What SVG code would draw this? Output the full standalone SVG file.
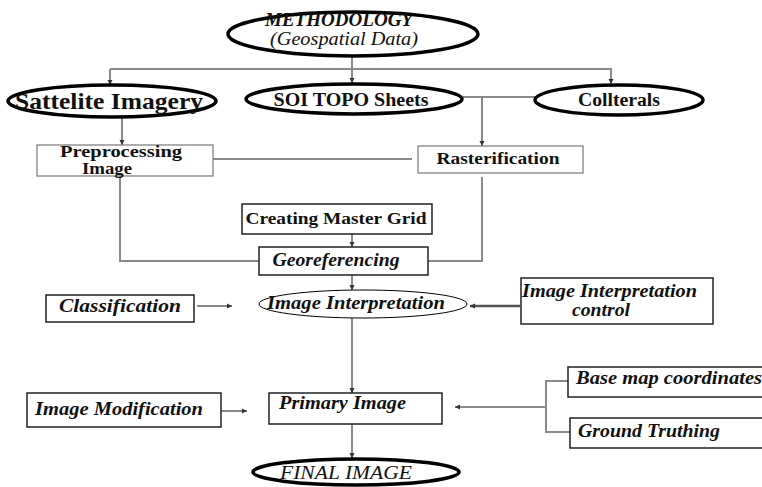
<svg xmlns="http://www.w3.org/2000/svg" width="762" height="487" viewBox="0 0 762 487" font-family="Liberation Serif, Times New Roman, serif">
<defs>
<marker id="ah" markerWidth="6" markerHeight="6" refX="5" refY="3" orient="auto" markerUnits="userSpaceOnUse">
<path d="M0,0.5 L5,3 L0,5.5 Z" fill="#333"/>
</marker>
</defs>
<style>
.bg{fill:#fff}
.conn{fill:none;stroke:#8a8a8a;stroke-width:2}
.dark{stroke:#555;stroke-width:2.5}
.thick{fill:#fff;stroke:#000;stroke-width:3.5}
.thin{fill:#fff;stroke:#000;stroke-width:1}
.box{fill:#fff;stroke:#222;stroke-width:1.5}
.gbox{fill:#fff;stroke:#777;stroke-width:1.2}
text{fill:#111}
.b{font-weight:bold}
.bi{font-weight:bold;font-style:italic}
.i{font-style:italic}
</style>
<rect class="bg" x="0" y="0" width="762" height="487"/>

<g id="connectors">
<line class="conn" x1="352" y1="56" x2="352" y2="83" marker-end="url(#ah)"/>
<polyline class="conn" points="110,69 611,69 611,84" marker-end="url(#ah)"/>
<line class="conn" x1="110" y1="69" x2="110" y2="85" marker-end="url(#ah)"/>
<line class="conn" x1="122" y1="117" x2="122" y2="145" marker-end="url(#ah)"/>
<line class="conn" x1="462" y1="97" x2="536" y2="97"/>
<line class="conn" x1="482" y1="97" x2="482" y2="146" marker-end="url(#ah)"/>
<line class="conn" x1="213" y1="159" x2="412" y2="159"/>
<polyline class="conn" points="120,176 120,261 259,261"/>
<polyline class="conn" points="482,177 482,261 428,261"/>
<line class="conn" x1="352" y1="234" x2="352" y2="247" marker-end="url(#ah)"/>
<line class="conn" x1="352" y1="275" x2="352" y2="290" marker-end="url(#ah)"/>
<line class="conn" x1="197" y1="306" x2="232" y2="306" marker-end="url(#ah)"/>
<line class="conn dark" x1="520" y1="306" x2="470" y2="306" marker-end="url(#ah)"/>
<line class="conn" x1="352" y1="318" x2="352" y2="393" marker-end="url(#ah)"/>
<line class="conn" x1="221" y1="411" x2="247" y2="411" marker-end="url(#ah)"/>
<polyline class="conn" points="568,381 546,381 546,432 570,432"/>
<line class="conn" x1="546" y1="407" x2="455" y2="407" marker-end="url(#ah)"/>
<line class="conn" x1="352" y1="424" x2="352" y2="458" marker-end="url(#ah)"/>
</g>

<g id="methodology">
<ellipse class="thick" cx="353" cy="34" rx="125" ry="22"/>
<text class="bi" x="339" y="26" text-anchor="middle" font-size="18" textLength="148" lengthAdjust="spacingAndGlyphs">METHODOLOGY</text>
<text class="i" x="344" y="45" text-anchor="middle" font-size="18" textLength="148" lengthAdjust="spacingAndGlyphs">(Geospatial Data)</text>
</g>

<g id="satellite">
<ellipse class="thick" cx="112" cy="101" rx="104" ry="16"/>
<text class="b" x="109" y="109" text-anchor="middle" font-size="23" textLength="188" lengthAdjust="spacingAndGlyphs">Sattelite Imagery</text>
</g>

<g id="soi">
<ellipse class="thick" cx="354" cy="99" rx="108" ry="15"/>
<text class="b" x="351" y="106" text-anchor="middle" font-size="18" textLength="155" lengthAdjust="spacingAndGlyphs">SOI TOPO Sheets</text>
</g>

<g id="collterals">
<ellipse class="thick" cx="619" cy="100" rx="84" ry="15"/>
<text class="b" x="619" y="106" text-anchor="middle" font-size="18" textLength="82" lengthAdjust="spacingAndGlyphs">Collterals</text>
</g>

<g id="preprocessing">
<rect class="gbox" x="37" y="145" width="176" height="31"/>
<text class="b" x="121" y="157" text-anchor="middle" font-size="16" textLength="122" lengthAdjust="spacingAndGlyphs">Preprocessing</text>
<text class="b" x="107" y="174" text-anchor="middle" font-size="16" textLength="50" lengthAdjust="spacingAndGlyphs">Image</text>
</g>

<g id="rasterification">
<rect class="gbox" x="418" y="146" width="165" height="27"/>
<text class="b" x="498" y="164" text-anchor="middle" font-size="16" textLength="123" lengthAdjust="spacingAndGlyphs">Rasterification</text>
</g>

<g id="master-grid">
<rect class="box" x="242" y="204" width="190" height="30"/>
<text class="b" x="336" y="224" text-anchor="middle" font-size="17" textLength="181" lengthAdjust="spacingAndGlyphs">Creating Master Grid</text>
</g>

<g id="georeferencing">
<rect class="box" x="259" y="247" width="169" height="28"/>
<text class="bi" x="336" y="266" text-anchor="middle" font-size="18" textLength="127" lengthAdjust="spacingAndGlyphs">Georeferencing</text>
</g>

<g id="image-interpretation">
<ellipse class="thin" cx="363" cy="304" rx="104" ry="14"/>
<text class="bi" x="356" y="309" text-anchor="middle" font-size="18" textLength="178" lengthAdjust="spacingAndGlyphs">Image Interpretation</text>
</g>

<g id="classification">
<rect class="box" x="46" y="295" width="148" height="27"/>
<text class="bi" x="120" y="312" text-anchor="middle" font-size="18" textLength="122" lengthAdjust="spacingAndGlyphs">Classification</text>
</g>

<g id="interpretation-control">
<rect class="box" x="521" y="278" width="192" height="46"/>
<text class="bi" x="522" y="297" font-size="18" textLength="175" lengthAdjust="spacingAndGlyphs">Image Interpretation</text>
<text class="bi" x="572" y="316" font-size="18" textLength="58" lengthAdjust="spacingAndGlyphs">control</text>
</g>

<g id="image-modification">
<rect class="box" x="27" y="393" width="194" height="34"/>
<text class="bi" x="35" y="415" font-size="18" textLength="168" lengthAdjust="spacingAndGlyphs">Image Modification</text>
</g>

<g id="primary-image">
<rect class="box" x="269" y="393" width="173" height="31"/>
<text class="bi" x="279" y="409" font-size="18" textLength="127" lengthAdjust="spacingAndGlyphs">Primary Image</text>
</g>

<g id="base-map">
<rect class="box" x="568" y="367" width="200" height="30"/>
<text class="bi" x="576" y="384" font-size="18" textLength="186" lengthAdjust="spacingAndGlyphs">Base map coordinates</text>
</g>

<g id="ground-truthing">
<rect class="box" x="570" y="418" width="200" height="30"/>
<text class="bi" x="578" y="437" font-size="18" textLength="142" lengthAdjust="spacingAndGlyphs">Ground Truthing</text>
</g>

<g id="final-image">
<ellipse class="thick" cx="356" cy="472" rx="103" ry="13"/>
<text class="i" x="346" y="479" text-anchor="middle" font-size="19" textLength="132" lengthAdjust="spacingAndGlyphs">FINAL IMAGE</text>
</g>
</svg>
